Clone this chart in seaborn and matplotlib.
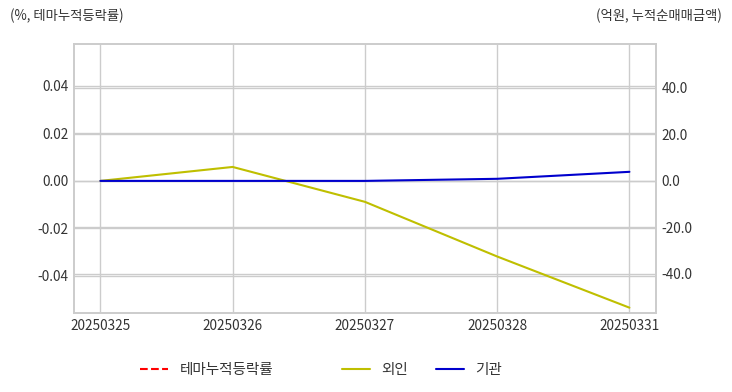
import numpy as np
import pandas as pd
import matplotlib
matplotlib.use("Agg")
import matplotlib.pyplot as plt
import seaborn as sns
from matplotlib.lines import Line2D
from matplotlib.ticker import FormatStrFormatter

dates = ["20250325", "20250326", "20250327", "20250328", "20250331"]
theme_return = [np.nan, np.nan, np.nan, np.nan, np.nan]
foreign = [0.0, 6.0, -9.0, -32.5, -54.5]
institution = [0.0, 0.0, 0.0, 0.9, 3.9]

sns.set_theme(style="whitegrid")
plt.rcParams['font.family'] = ['Noto Sans CJK KR', 'DejaVu Sans']
plt.rcParams['axes.unicode_minus'] = False

fig = plt.figure(figsize=(7.32, 3.92), dpi=100)
ax = fig.add_axes([0.101, 0.2015, 0.795, 0.6865])
ax2 = ax.twinx()

df = pd.DataFrame({"date": dates, "theme": theme_return,
                   "foreign": foreign, "inst": institution})
xpos = np.arange(len(dates))

sns.lineplot(x=xpos, y=df["theme"], ax=ax, color="red", linestyle="--", lw=1.5)
sns.lineplot(x=xpos, y=df["foreign"], ax=ax2, color="#bfbf00", lw=1.5)
sns.lineplot(x=xpos, y=df["inst"], ax=ax2, color="mediumblue", lw=1.5)

ax.set_xlim(-0.2, 4.2)
ax.set_ylim(-0.0556, 0.0577)
ax2.set_ylim(-56.8, 58.9)
ax.set_xticks(xpos)
ax.set_xticklabels(dates)
ax.set_yticks([-0.04, -0.02, 0.0, 0.02, 0.04])
ax2.set_yticks([-40, -20, 0, 20, 40])
ax.yaxis.set_major_formatter(FormatStrFormatter('%.2f'))
ax2.yaxis.set_major_formatter(FormatStrFormatter('%.1f'))
for a in (ax, ax2):
    a.set_xlabel("")
    a.set_ylabel("")
    a.tick_params(labelsize=9.8, colors="#333333", length=0, pad=4)
    for s in a.spines.values():
        s.set_color("#cccccc")
        s.set_linewidth(1.2)
ax.grid(True, color="#cccccc", lw=1)
ax2.grid(True, color="#cccccc", lw=1)

fig.text(10/732, 1-16/392, "(%, 테마누적등락률)", fontsize=9.6, color="#333333",
         ha="left", va="center")
fig.text(722/732, 1-16/392, "(억원, 누적순매매금액)", fontsize=9.6, color="#333333",
         ha="right", va="center")

h1 = [Line2D([], [], color="red", ls="--", lw=1.5)]
leg1 = fig.legend(h1, ["테마누적등락률"], loc="center", frameon=False,
                  bbox_to_anchor=(206.5/732, 1-370/392), fontsize=10.5,
                  handlelength=1.9, handletextpad=0.8)
h2 = [Line2D([], [], color="#bfbf00", lw=1.5), Line2D([], [], color="mediumblue", lw=1.5)]
leg2 = fig.legend(h2, ["외인", "기관"], loc="center", frameon=False, ncol=2,
                  bbox_to_anchor=(422/732, 1-370/392), fontsize=10.5,
                  handlelength=1.9, handletextpad=0.8, columnspacing=1.9)
for lg in (leg1, leg2):
    for t in lg.get_texts():
        t.set_color("#333333")

fig.savefig("out.png", dpi=100)
